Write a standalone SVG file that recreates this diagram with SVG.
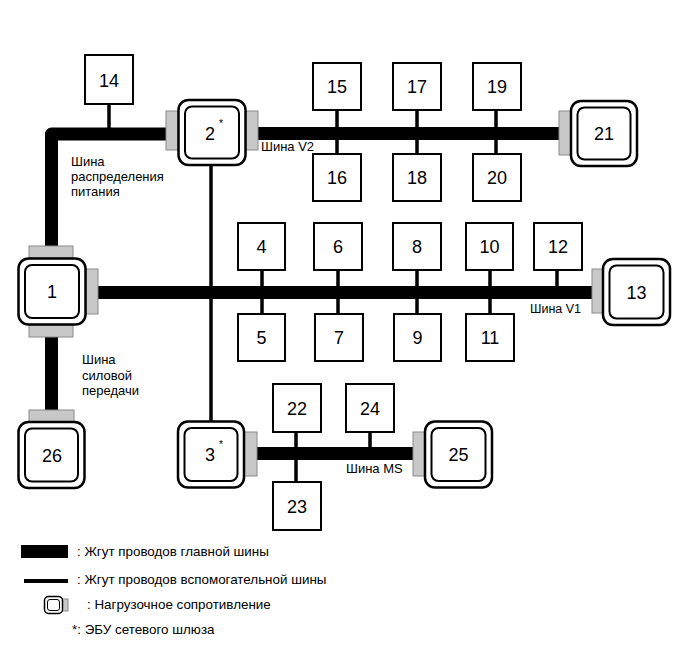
<svg xmlns="http://www.w3.org/2000/svg" width="691" height="660" viewBox="0 0 691 660">
<style>
text{font-family:"Liberation Sans",Arial,sans-serif;fill:#000}
.num{font-size:18px;text-anchor:middle}
.lbl{font-size:13px}
.leg{font-size:13.4px}
.sup{font-size:10px}
.box{fill:#fff;stroke:#000;stroke-width:2}
.outer{fill:#fff;stroke:#000;stroke-width:2.5}
.inner{fill:#fff;stroke:#000;stroke-width:2}
.res{fill:#c8c8c8;stroke:#8a8a8a;stroke-width:1}
.main{fill:none;stroke:#000;stroke-width:13;stroke-linejoin:round}
.sub{fill:none;stroke:#000;stroke-width:3.5}
</style>
<rect width="691" height="660" fill="#fff"/>
<g id="connectors">
<path class="main" d="M51.5,246 V134 H166"/>
<path class="main" d="M258,133.5 H559"/>
<path class="main" d="M98,292.5 H592"/>
<path class="main" d="M51.5,337 V410"/>
<path class="main" d="M257,453.5 H413"/>
<path class="sub" d="M211,165 V421"/>
<path class="sub" d="M109,103 V128"/>
<path class="sub" d="M337,110 V154"/>
<path class="sub" d="M417,110 V154"/>
<path class="sub" d="M496,110 V154"/>
<path class="sub" d="M262,270 V314"/>
<path class="sub" d="M338,270 V314"/>
<path class="sub" d="M417,270 V314"/>
<path class="sub" d="M490,270 V314"/>
<path class="sub" d="M557,270 V287"/>
<path class="sub" d="M296,432 V482"/>
<path class="sub" d="M370,432 V448"/>
</g>
<g id="n1">
<rect class="res" x="29" y="246" width="44" height="12"/>
<rect class="res" x="29" y="325" width="44" height="12"/>
<rect class="res" x="86" y="269" width="12" height="45"/>
<rect class="outer" x="18.5" y="258.5" width="67" height="66" rx="10"/>
<rect class="inner" x="25" y="265" width="54" height="53" rx="7"/>
<text class="num" x="52" y="298">1</text>
</g>
<g id="n2">
<rect class="res" x="166" y="111" width="12" height="39"/>
<rect class="res" x="246" y="111" width="12" height="39"/>
<rect class="outer" x="178.5" y="100" width="67" height="65" rx="10"/>
<rect class="inner" x="185" y="106.5" width="54" height="52" rx="7"/>
<text class="num" x="210" y="140">2</text><text class="sup" x="219" y="127">*</text>
</g>
<g id="n3">
<rect class="res" x="244" y="432" width="13" height="44"/>
<rect class="outer" x="178" y="421.5" width="66" height="66" rx="10"/>
<rect class="inner" x="184.5" y="428" width="53" height="53" rx="7"/>
<text class="num" x="210" y="461">3</text><text class="sup" x="219" y="448">*</text>
</g>
<g id="n13">
<rect class="res" x="592" y="269" width="11" height="44"/>
<rect class="outer" x="603" y="259" width="67" height="66" rx="10"/>
<rect class="inner" x="609.5" y="265.5" width="54" height="53" rx="7"/>
<text class="num" x="636.5" y="299">13</text>
</g>
<g id="n21">
<rect class="res" x="559" y="111" width="12" height="44"/>
<rect class="outer" x="571" y="101" width="66" height="65" rx="10"/>
<rect class="inner" x="577.5" y="107.5" width="53" height="52" rx="7"/>
<text class="num" x="604" y="140">21</text>
</g>
<g id="n25">
<rect class="res" x="413" y="432" width="12" height="44"/>
<rect class="outer" x="425" y="421.5" width="67" height="66" rx="10"/>
<rect class="inner" x="431.5" y="428" width="54" height="53" rx="7"/>
<text class="num" x="458.5" y="461">25</text>
</g>
<g id="n26">
<rect class="res" x="29" y="410" width="45" height="12"/>
<rect class="outer" x="18.5" y="422" width="66" height="66" rx="10"/>
<rect class="inner" x="25" y="428.5" width="53" height="53" rx="7"/>
<text class="num" x="52" y="462">26</text>
</g>
<g id="n14"><rect class="box" x="85" y="55" width="48" height="49"/><text class="num" x="109" y="87">14</text></g>
<g id="n15"><rect class="box" x="313" y="63" width="48" height="47"/><text class="num" x="337" y="93">15</text></g>
<g id="n16"><rect class="box" x="313" y="154" width="48" height="47"/><text class="num" x="337" y="184">16</text></g>
<g id="n17"><rect class="box" x="393" y="63" width="48" height="47"/><text class="num" x="417" y="93">17</text></g>
<g id="n18"><rect class="box" x="393" y="154" width="48" height="47"/><text class="num" x="417" y="184">18</text></g>
<g id="n19"><rect class="box" x="473" y="63" width="48" height="47"/><text class="num" x="497" y="93">19</text></g>
<g id="n20"><rect class="box" x="473" y="154" width="48" height="47"/><text class="num" x="497" y="184">20</text></g>
<g id="n4"><rect class="box" x="238" y="223" width="47" height="47"/><text class="num" x="261.5" y="253">4</text></g>
<g id="n5"><rect class="box" x="238" y="314" width="47" height="47"/><text class="num" x="261.5" y="344">5</text></g>
<g id="n6"><rect class="box" x="314" y="223" width="48" height="47"/><text class="num" x="338" y="253">6</text></g>
<g id="n7"><rect class="box" x="315" y="314" width="48" height="47"/><text class="num" x="339" y="344">7</text></g>
<g id="n8"><rect class="box" x="393" y="223" width="48" height="47"/><text class="num" x="417" y="253">8</text></g>
<g id="n9"><rect class="box" x="394" y="314" width="47" height="47"/><text class="num" x="417.5" y="344">9</text></g>
<g id="n10"><rect class="box" x="466" y="223" width="47" height="47"/><text class="num" x="489.5" y="253">10</text></g>
<g id="n11"><rect class="box" x="466" y="314" width="48" height="47"/><text class="num" x="490" y="344">11</text></g>
<g id="n12"><rect class="box" x="534" y="223" width="48" height="47"/><text class="num" x="558" y="253">12</text></g>
<g id="n22"><rect class="box" x="273" y="384" width="48" height="48"/><text class="num" x="297" y="415">22</text></g>
<g id="n23"><rect class="box" x="273" y="482" width="48" height="48"/><text class="num" x="297" y="513">23</text></g>
<g id="n24"><rect class="box" x="346" y="384" width="48" height="48"/><text class="num" x="370" y="415">24</text></g>
<g id="labels">
<text class="lbl" x="71" y="166">Шина</text>
<text class="lbl" x="71" y="181">распределения</text>
<text class="lbl" x="71" y="196">питания</text>
<text class="lbl" x="261" y="151">Шина V2</text>
<text class="lbl" x="530" y="313" style="font-size:12.5px">Шина V1</text>
<text class="lbl" x="82" y="364">Шина</text>
<text class="lbl" x="82" y="380">силовой</text>
<text class="lbl" x="82" y="395">передачи</text>
<text class="lbl" x="346" y="473">Шина MS</text>
</g>
<g id="legend">
<rect x="21" y="545" width="47" height="13" fill="#000"/>
<text class="leg" x="77" y="556">: Жгут проводов главной шины</text>
<rect x="24" y="579" width="44" height="4" fill="#000"/>
<text class="leg" x="77" y="584">: Жгут проводов вспомогательной шины</text>
<rect class="res" x="62" y="599" width="6" height="12"/>
<rect x="44.5" y="596.5" width="18" height="17" rx="4" fill="#fff" stroke="#000" stroke-width="1.5"/>
<rect x="47.5" y="599.5" width="12" height="11" rx="2.5" fill="#fff" stroke="#000" stroke-width="1"/>
<text class="leg" x="87" y="609">: Нагрузочное сопротивление</text>
<text class="leg" x="72" y="634">*: ЭБУ сетевого шлюза</text>
</g>
</svg>
